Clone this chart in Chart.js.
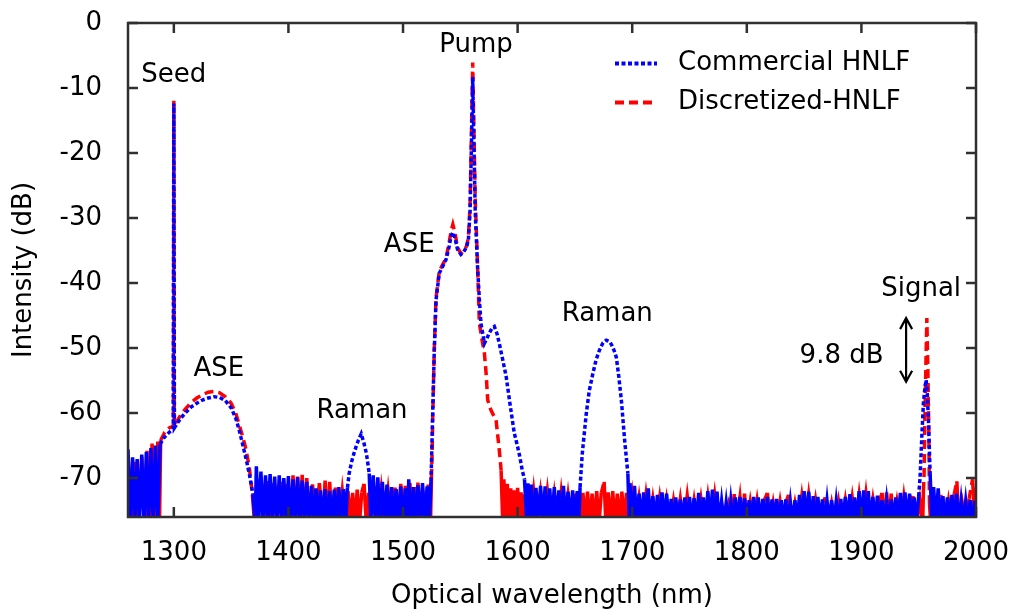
<!DOCTYPE html>
<html>
<head>
<meta charset="utf-8">
<script src="https://cdn.jsdelivr.net/npm/chart.js@4.4.1/dist/chart.umd.min.js"></script>
<style>
  html, body { margin: 0; padding: 0; background: #fff; }
  #wrap { width: 1011px; height: 611px; }
</style>
</head>
<body>
<div id="wrap"><canvas id="spec"></canvas></div>
<script>
// axis ticks
const xTicks = [1300, 1400, 1500, 1600, 1700, 1800, 1900, 2000];
const yTicks = [-70, -60, -50, -40, -30, -20, -10, 0];

// Commercial HNLF (blue) — wavelength (nm) / intensity (dB)
const commWl = [
  1260, 1262, 1264, 1266, 1268, 1270, 1272, 1274, 1276, 1278, 1280, 1282, 1284, 1286, 1288,
  1291, 1294, 1297, 1299.5, 1300, 1300.5, 1303, 1306, 1310, 1315, 1320, 1325, 1330, 1335, 1340, 1345, 1350, 1354, 1357, 1360, 1363, 1366, 1369, 1371,
  1372, 1374, 1376, 1378, 1380, 1382, 1384, 1386, 1388, 1390,
  1392, 1394, 1396, 1398, 1400, 1402, 1404, 1406, 1408, 1410,
  1412, 1414, 1416, 1418, 1420, 1422, 1424, 1426, 1428, 1430,
  1432, 1434, 1436, 1438, 1440, 1442, 1444, 1446, 1448, 1450,
  1451.5, 1453, 1455, 1457, 1459, 1461, 1463.5, 1466, 1468, 1469, 1470.5, 1472,
  1474, 1476, 1478, 1480, 1482, 1484, 1486, 1488, 1490, 1492,
  1494, 1496, 1498, 1500, 1502, 1504, 1505, 1507, 1509, 1511,
  1513, 1515, 1517, 1519, 1521, 1523,
  1524.4, 1525, 1525.8, 1527.3, 1528.8, 1531.6, 1534.5, 1537.5, 1540, 1542, 1543.5, 1545.5, 1547.5, 1550.5, 1553, 1555, 1557, 1558.5, 1560, 1560.8, 1561.6,
  1563, 1565, 1566.6, 1568, 1571, 1573, 1575.3, 1577.5, 1579.7, 1582, 1584, 1587, 1590, 1593.5, 1597, 1600, 1602, 1604, 1606, 1608, 1609, 1610,
  1612, 1614, 1616, 1618, 1620, 1622, 1624, 1626, 1628, 1630,
  1632, 1634, 1636, 1638, 1640, 1642, 1644, 1646, 1648, 1650,
  1652, 1653.5,
  1654.5, 1656.4, 1659.9, 1662.5, 1665.7, 1668.5, 1671.5, 1674.5, 1677.4, 1680, 1682, 1684, 1686.1, 1688.3, 1690.5, 1693.4, 1696.2, 1697.5,
  1698, 1700, 1702, 1704, 1706, 1708, 1710, 1712, 1714, 1716,
  1718, 1720, 1722, 1724, 1726, 1728, 1730, 1732, 1734, 1736,
  1738, 1740, 1742, 1744, 1746, 1748, 1750, 1752, 1754, 1756,
  1758, 1760, 1762, 1764, 1766, 1768, 1770, 1772, 1774, 1776,
  1778, 1780, 1782, 1784, 1786, 1788, 1790, 1792, 1794, 1796,
  1798, 1800, 1802, 1804, 1806, 1808, 1810, 1812, 1814, 1816,
  1818, 1820, 1822, 1824, 1826, 1828, 1830, 1832, 1834, 1836,
  1838, 1840, 1842, 1844, 1846, 1848, 1850, 1852, 1854, 1856,
  1858, 1860, 1862, 1864, 1866, 1868, 1870, 1872, 1874, 1876,
  1878, 1880, 1882, 1884, 1886, 1888, 1890, 1892, 1894, 1896,
  1898, 1900, 1902, 1904, 1906, 1908, 1910, 1912, 1914, 1916,
  1918, 1920, 1922, 1924, 1926, 1928, 1930, 1932, 1934, 1936,
  1938, 1940, 1942, 1944, 1946, 1948, 1950,
  1951.2, 1952.7, 1954.1, 1955.5, 1956.5, 1957.5, 1958.5, 1960, 1961.5,
  1963, 1965, 1967, 1969, 1971, 1973, 1975, 1977, 1979, 1981,
  1983, 1985, 1987, 1989, 1991, 1993, 1995, 1997, 1999, 2000,
];
const commDb = [
  -65.6, -77, -66.8, -77, -67.1, -77, -66.4, -77, -66.0, -77, -65.4, -77, -65.0, -77, -64.8,
  -63.9, -63.3, -62.8, -62.4, -12.4, -62.3, -61.6, -60.8, -60.0, -59.1, -58.5, -58.0, -57.7, -57.5, -57.6, -58.1, -59.2, -60.8, -62.6, -64.8, -67.0, -69.5, -72.5, -77,
  -68.2, -77, -69.0, -77, -69.6, -77, -69.4, -77, -69.8, -77,
  -69.6, -77, -70.0, -77, -69.7, -77, -70.2, -77, -69.9, -77,
  -70.4, -77, -70.6, -77, -71.2, -77, -71.6, -77, -71.9, -77,
  -71.7, -77, -72.0, -77, -71.8, -77, -71.4, -77, -71.7, -77,
  -71.5, -69.3, -67.6, -66.3, -65.2, -64.2, -63.2, -64.7, -66.2, -67.4, -69.3, -77,
  -69.6, -77, -69.9, -77, -70.6, -77, -71.0, -77, -71.4, -77,
  -71.7, -77, -71.3, -77, -71.6, -77, -70.2, -77, -71.4, -77,
  -71.1, -77, -70.8, -77, -71.3, -77,
  -70.5, -66.5, -60.6, -50.3, -42.6, -38.5, -37.5, -36.4, -34.6, -32.8, -32.2, -33.2, -34.8, -35.6, -35.2, -34.6, -33.5, -29, -16, -8.3, -16,
  -29, -37.4, -42.5, -46.2, -49.3, -48.6, -47.7, -47.0, -46.7, -47.8, -49.3, -51.8, -54.4, -58.8, -63.0, -65.2, -66.8, -68.8, -70.2, -77, -70.8, -77,
  -71.0, -77, -71.5, -77, -71.2, -77, -71.3, -77, -71.6, -77,
  -71.4, -77, -71.9, -77, -71.2, -77, -72.1, -77, -71.9, -77,
  -72.0, -77,
  -71.4, -66.3, -60.1, -56.6, -53.9, -51.8, -50.3, -49.2, -48.8, -49.0, -49.5, -50.3, -51.4, -54.4, -58.0, -64.2, -69.3, -77,
  -70.8, -77, -71.2, -77, -72.4, -77, -72.2, -77, -71.6, -77,
  -72.8, -77, -72.6, -77, -72.2, -77, -72.4, -77, -73.2, -77,
  -73.0, -77, -73.3, -77, -73.0, -77, -72.9, -77, -73.1, -77,
  -72.3, -77, -73.0, -77, -72.0, -77, -71.8, -77, -72.1, -77,
  -73.6, -77, -73.8, -77, -73.5, -77, -73.0, -77, -72.9, -77,
  -73.1, -77, -73.4, -77, -72.9, -77, -73.0, -77, -73.2, -77,
  -72.9, -77, -73.3, -77, -73.2, -77, -73.4, -77, -73.3, -77,
  -73.7, -77, -73.4, -77, -72.6, -77, -72.0, -77, -72.1, -77,
  -72.8, -77, -72.9, -77, -73.3, -77, -73.5, -77, -73.4, -77,
  -73.6, -77, -73.2, -77, -72.9, -77, -72.5, -77, -73.0, -77,
  -72.0, -77, -71.9, -77, -72.0, -77, -72.9, -77, -72.7, -77,
  -73.4, -77, -73.5, -77, -73.3, -77, -73.0, -77, -72.3, -77,
  -72.2, -77, -72.4, -77, -73.0, -77, -72.8,
  -69.9, -63.7, -58.5, -56.0, -54.9, -57.0, -61.1, -69.4, -77,
  -71.4, -77, -71.6, -77, -72.8, -77, -73.0, -77, -72.6, -77,
  -72.4, -77, -73.5, -77, -73.6, -77, -73.4, -77, -73.5, -77,
];

// Discretized-HNLF (red)
const discWl = [
  1260, 1263, 1266, 1269, 1272, 1275, 1276.6, 1279, 1281, 1284, 1286, 1287.5,
  1288.5, 1292, 1296, 1299.6, 1300, 1300.4, 1303, 1306, 1310, 1315, 1320, 1325, 1330, 1335, 1340, 1345, 1350, 1354, 1357, 1360, 1363, 1366, 1368.5, 1370.5,
  1373, 1375, 1378, 1381, 1384, 1387, 1390, 1393, 1396, 1399,
  1402, 1404, 1406, 1408, 1410, 1412, 1414, 1416, 1418, 1421,
  1424, 1427, 1430, 1432, 1434, 1436, 1438, 1441, 1444, 1447, 1450,
  1452, 1454, 1456, 1458, 1460, 1462, 1464, 1466, 1468, 1470, 1472,
  1475, 1478, 1481, 1484, 1487, 1490, 1493, 1496, 1498, 1500,
  1502, 1504, 1506, 1508, 1510, 1512, 1513, 1515, 1517, 1520, 1522, 1524,
  1524.8, 1525.4, 1526, 1527.3, 1528.8, 1531.6, 1534.5, 1537.5, 1540, 1542, 1543.5, 1545.5, 1547.5, 1550.5, 1553.5, 1555.5, 1557,
  1558.5, 1560, 1560.8, 1561.6, 1563, 1565, 1566.6, 1569, 1571, 1572.5, 1573.9, 1576.8, 1581.2, 1584, 1585.6, 1587,
  1588, 1589.5, 1591, 1592.5, 1594, 1595.5, 1597, 1598.5, 1600, 1601.5, 1603, 1604.5, 1606, 1607.5, 1609, 1611,
  1614, 1617, 1620, 1623, 1626, 1629, 1632, 1635, 1638, 1641, 1644, 1647, 1650,
  1651.5, 1653, 1655, 1657, 1659, 1661, 1663, 1665, 1667, 1669,
  1671, 1673, 1675.5, 1677, 1679, 1681, 1683, 1685, 1687, 1689,
  1691, 1693, 1695, 1697,
  1700, 1703, 1706, 1709, 1712, 1715, 1718, 1721, 1724, 1727,
  1730, 1733, 1736, 1739, 1742, 1745, 1748, 1751, 1754, 1757,
  1760, 1763, 1766, 1769, 1772, 1775, 1778, 1781, 1784, 1787,
  1789, 1791, 1794, 1796, 1798, 1800, 1803, 1806, 1809, 1812,
  1815, 1818, 1820, 1823, 1826, 1829, 1832, 1834, 1836.5, 1839,
  1842, 1845, 1848, 1851, 1854, 1857, 1860, 1863, 1866, 1868.5,
  1871, 1874, 1877, 1880, 1883, 1886, 1889, 1892, 1895, 1898,
  1901, 1904, 1907, 1910, 1913, 1916, 1918, 1920, 1922, 1924,
  1926, 1928, 1931, 1934, 1937, 1940, 1943, 1945, 1948, 1951, 1953.5,
  1954.1, 1954.7, 1955.6, 1956.5, 1957.1, 1958, 1958.9, 1959.4, 1960.5,
  1963, 1966, 1969, 1971, 1973, 1976, 1979, 1981, 1983.3, 1985, 1988, 1991, 1994, 1997, 1999, 2000,
];
const discDb = [
  -66.5, -77, -67.5, -77, -66.8, -77, -65.8, -77, -64.7, -77, -64.4, -77,
  -64.2, -63.0, -62.3, -62.0, -11.9, -61.8, -61.2, -60.3, -59.4, -58.4, -57.7, -57.2, -56.8, -56.7, -56.9, -57.5, -58.5, -60.0, -61.8, -63.6, -65.6, -68.6, -72.5, -77,
  -77, -70.2, -77, -70.5, -77, -70.8, -77, -70.6, -77, -70.9,
  -77, -69.6, -77, -69.8, -77, -69.5, -77, -70.0, -77, -71.0,
  -77, -70.8, -77, -70.4, -77, -70.6, -77, -71.5, -77, -72.0, -77,
  -72.0, -77, -72.3, -77, -71.8, -77, -72.2, -70.9, -77, -72.3, -77,
  -71.5, -77, -71.8, -77, -72.0, -77, -71.5, -77, -70.9, -77,
  -71.2, -77, -70.8, -77, -71.4, -77, -70.7, -77, -71.6, -77, -71.0, -77,
  -70, -66.0, -60.0, -50.0, -42.3, -38.2, -37.2, -36.2, -34.0, -32.0, -31.0, -32.4, -34.5, -35.5, -34.9, -34.3, -33.0,
  -28, -14, -6.1, -14, -27, -37, -46.2, -48.8, -50.8, -53.9, -58.0, -59.6, -61.1, -65.7, -68.8, -77,
  -70.2, -77, -70.9, -77, -71.6, -77, -71.9, -77, -71.5, -77, -72.2, -77, -72.5, -77, -73.0, -77,
  -72.0, -77, -72.3, -77, -72.1, -77, -72.5, -77, -72.2, -77, -72.6, -77, -72.4,
  -77, -72.0, -77, -72.3, -77, -72.1, -77, -72.4, -77, -72.0,
  -77, -72.3, -70.6, -77, -72.2, -77, -72.0, -77, -72.4, -77,
  -72.1, -77, -72.3, -77,
  -72.5, -77, -73.0, -77, -72.6, -77, -73.2, -77, -73.0, -77,
  -73.3, -77, -73.5, -77, -73.2, -77, -72.7, -77, -73.4, -77,
  -73.2, -77, -72.8, -77, -72.6, -77, -74.0, -77, -74.2, -77,
  -72.5, -77, -73.0, -77, -72.4, -77, -73.6, -77, -73.4, -77,
  -73.5, -72.3, -77, -73.8, -77, -73.6, -77, -73.8, -72.6, -77,
  -73.9, -77, -72.8, -77, -72.6, -77, -73.4, -77, -73.8, -73.0,
  -77, -73.9, -77, -73.6, -77, -73.4, -77, -73.0, -77, -72.6,
  -77, -72.4, -77, -73.3, -77, -73.4, -72.3, -77, -72.2, -77,
  -72.4, -77, -73.6, -77, -72.8, -77, -73.4, -72.8, -77, -73.5, -77,
  -72, -69.4, -58.5, -50.8, -45.4, -53.4, -63.7, -74, -77,
  -73.5, -77, -72.9, -72.8, -77, -73.5, -77, -72.5, -70.5, -77, -73.8, -77, -73.2, -70.2, -77, -71.5,
];

const FONT = "'DejaVu Sans', sans-serif";
const FS = 26;

// annotations, placed in data coordinates (text baseline)
const notes = [
  { text: 'Seed', wl: 1300, db: -9.15 },
  { text: 'Pump', wl: 1563.7, db: -4.5 },
  { text: 'ASE', wl: 1339.3, db: -54.3 },
  { text: 'ASE', wl: 1505.4, db: -35.3 },
  { text: 'Raman', wl: 1464.2, db: -60.7 },
  { text: 'Raman', wl: 1678.2, db: -45.8 },
  { text: 'Signal', wl: 1952.1, db: -42.0 },
  { text: '9.8 dB', wl: 1882.7, db: -52.3 },
];
const arrow = { wl: 1939, from: -45.4, to: -55.2 };

const pts = (wl, db) => wl.map((x, i) => ({ x, y: db[i] }));
// les segments du plancher de bruit sont tracés pleins (bruit dense)
const FLOOR = -76.5;
const noiseDash = (c) => (c.p0.parsed.y <= FLOOR || c.p1.parsed.y <= FLOOR ? [] : undefined);

// cadre gnuplot : bordure + graduations vers l'intérieur sur les 4 côtés, légende, annotations
const frame = {
  id: 'frame',
  afterDatasetsDraw(chart) {
    const { ctx, chartArea: a, scales: { x, y } } = chart;
    ctx.save();
    ctx.strokeStyle = '#303030';
    ctx.lineWidth = 2.5;
    ctx.setLineDash([]);
    ctx.strokeRect(a.left, a.top, a.right - a.left, a.bottom - a.top);
    ctx.beginPath();
    xTicks.forEach((v) => {
      const px = x.getPixelForValue(v);
      ctx.moveTo(px, a.bottom); ctx.lineTo(px, a.bottom - 10);
      ctx.moveTo(px, a.top); ctx.lineTo(px, a.top + 10);
    });
    yTicks.forEach((v) => {
      const py = y.getPixelForValue(v);
      ctx.moveTo(a.left, py); ctx.lineTo(a.left + 10, py);
      ctx.moveTo(a.right, py); ctx.lineTo(a.right - 10, py);
    });
    ctx.stroke();

    ctx.fillStyle = '#000';
    ctx.font = `${FS}px ${FONT}`;
    ctx.textAlign = 'center';
    ctx.textBaseline = 'alphabetic';
    notes.forEach((n) => ctx.fillText(n.text, x.getPixelForValue(n.wl), y.getPixelForValue(n.db)));

    // double flèche 9.8 dB
    const ax = x.getPixelForValue(arrow.wl);
    const y1 = y.getPixelForValue(arrow.from);
    const y2 = y.getPixelForValue(arrow.to);
    ctx.strokeStyle = '#000';
    ctx.lineWidth = 2.2;
    ctx.beginPath();
    ctx.moveTo(ax, y1); ctx.lineTo(ax, y2);
    ctx.moveTo(ax - 6, y1 + 11); ctx.lineTo(ax, y1); ctx.lineTo(ax + 6, y1 + 11);
    ctx.moveTo(ax - 6, y2 - 11); ctx.lineTo(ax, y2); ctx.lineTo(ax + 6, y2 - 11);
    ctx.stroke();

    // légende
    const rows = [63.5, 102.5];
    chart.data.datasets.forEach((ds, i) => {
      ctx.strokeStyle = ds.borderColor;
      ctx.lineWidth = ds.borderWidth + 0.5;
      ctx.setLineDash(ds.borderDash);
      ctx.beginPath();
      ctx.moveTo(615, rows[i]); ctx.lineTo(657, rows[i]);
      ctx.stroke();
      ctx.setLineDash([]);
      ctx.textAlign = 'left';
      ctx.textBaseline = 'middle';
      ctx.fillText(ds.label, 678, rows[i]);
    });
    ctx.restore();
  },
};

Chart.defaults.font.family = FONT;
Chart.defaults.font.size = FS;
Chart.defaults.color = '#000';

new Chart(document.getElementById('spec'), {
  type: 'line',
  data: {
    datasets: [
      {
        label: 'Commercial HNLF', data: pts(commWl, commDb),
        borderColor: '#0000ff', borderWidth: 3.5, borderDash: [4, 2.5],
        pointRadius: 0, tension: 0, clip: 0, segment: { borderDash: noiseDash },
      },
      {
        label: 'Discretized-HNLF', data: pts(discWl, discDb),
        borderColor: '#ff0000', borderWidth: 3.5, borderDash: [9, 5],
        pointRadius: 0, tension: 0, clip: 0, segment: { borderDash: noiseDash },
      },
    ],
  },
  options: {
    responsive: true, maintainAspectRatio: false, animation: false, events: [],
    devicePixelRatio: 1,
    layout: { padding: { left: 0, top: 23, right: 35, bottom: 0 } },
    plugins: { legend: { display: false }, tooltip: { enabled: false } },
    scales: {
      x: {
        type: 'linear', min: 1260, max: 2000,
        afterBuildTicks: (s) => { s.ticks = xTicks.map((v) => ({ value: v })); },
        afterFit: (s) => { s.height = 94; s.paddingLeft = 0; s.paddingRight = 0; },
        grid: { display: false, drawTicks: false }, border: { display: false },
        ticks: { padding: 21, maxRotation: 0, autoSkip: false, callback: (v) => String(v) },
        title: { display: true, text: 'Optical wavelength (nm)', padding: { top: 0, bottom: -1 } },
      },
      y: {
        min: -76, max: 0,
        afterBuildTicks: (s) => { s.ticks = yTicks.map((v) => ({ value: v })); },
        afterFit: (s) => { s.width = 128; s.paddingTop = 0; s.paddingBottom = 0; },
        grid: { display: false, drawTicks: false }, border: { display: false },
        ticks: { padding: 26, callback: (v) => String(v) },
        title: { display: true, text: 'Intensity (dB)', padding: { top: 9, bottom: 0 } },
      },
    },
  },
  plugins: [frame],
});
</script>
</body>
</html>
